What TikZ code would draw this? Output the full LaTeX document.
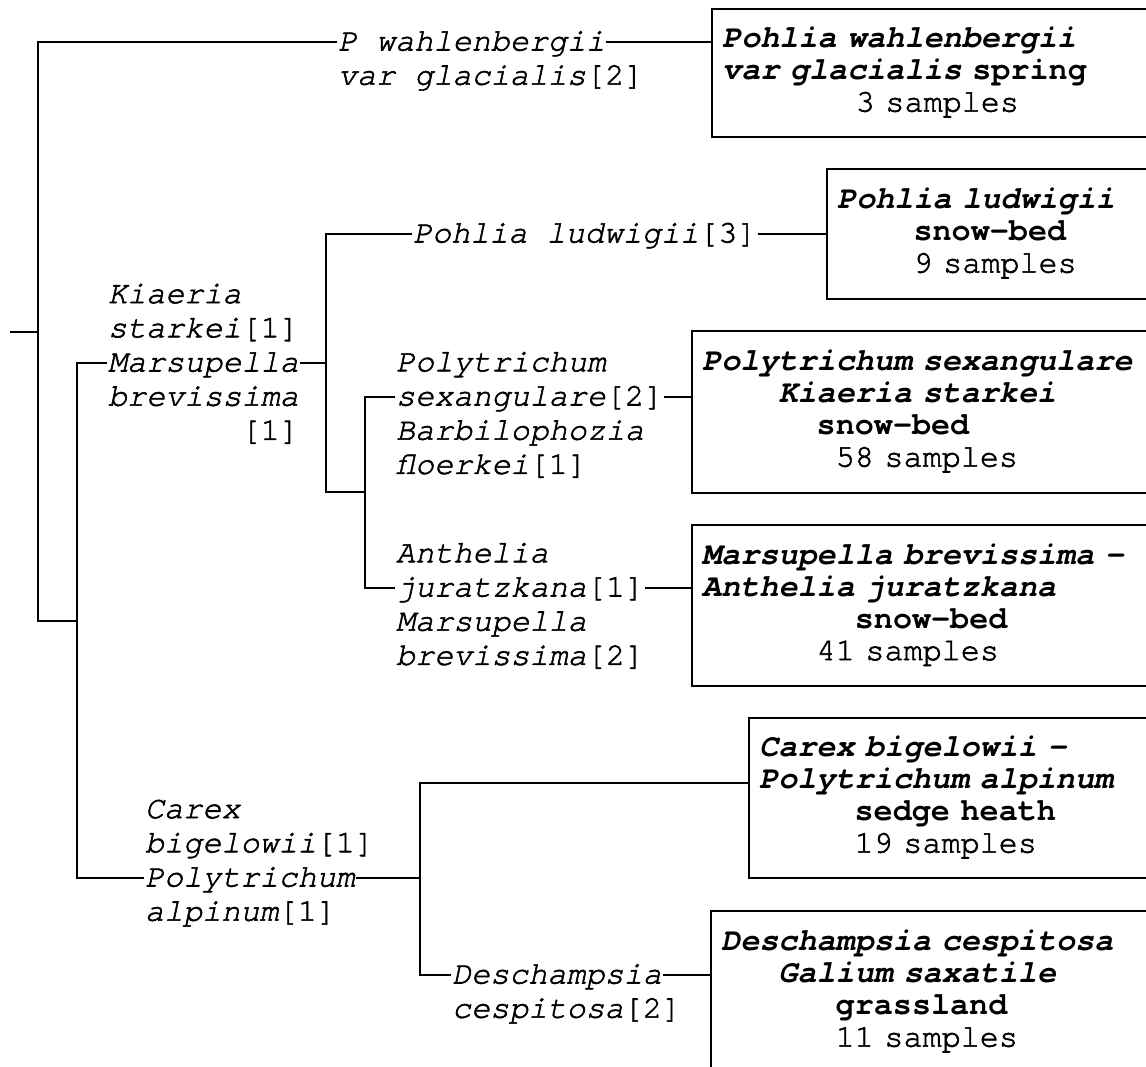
\documentclass[tikz,border=0pt]{standalone}
\usepackage{fontspec}
\usepackage{tikz}
\usetikzlibrary{positioning, calc}
\newfontfamily\treefont{texgyrecursor}[Extension=.otf, UprightFont=*-regular, BoldFont=*-bold, ItalicFont=*-italic, BoldItalicFont=*-bolditalic, UprightFeatures={FakeBold=1.8}, ItalicFeatures={FakeBold=1.8}]
\newfontfamily\boxfont{texgyrecursor}[Extension=.otf, UprightFont=*-regular, BoldFont=*-bold, ItalicFont=*-italic, BoldItalicFont=*-bolditalic, UprightFeatures={FakeBold=1.8}]
\newcommand{\indcols}[1]{\hspace*{\fpeval{0.6*#1}em}}
\newcommand{\ncount}[1]{\textup{[#1]}}

\begin{document}
\begin{tikzpicture}[x=1pt, y=-1pt, line width=2.2pt,
    lbl/.style={font=\treefont\itshape\fontsize{31.8}{32}\selectfont, inner sep=0pt, text height=24.5pt, text depth=7.5pt, anchor=west},
    group/.style={draw, line width=2.4pt, font=\boxfont\bfseries\fontsize{31.8}{32}\selectfont, align=left, text width=480pt, inner xsep=10pt, inner ysep=0pt, anchor=north west}]
\useasboundingbox (0,0) rectangle (1146,1067);
\clip (0,0) rectangle (1146,1067);

% Community boxes (right edges run off the page)
\node[group, minimum height=128pt] (box1) at (711,8) {\strut\textit{Pohlia wahlenbergii}\\\textit{var glacialis} spring\\\indcols{7}{\mdseries 3 samples}\strut};
\node[group, minimum height=130pt] (box2) at (826,168) {\strut\textit{Pohlia ludwigii}\\\indcols{4}snow-bed\\\indcols{4}{\mdseries 9 samples}\strut};
\node[group, minimum height=162pt] (box3) at (691,330) {\strut\textit{Polytrichum sexangulare}\\\indcols{4}\textit{Kiaeria starkei}\\\indcols{6}snow-bed\\\indcols{7}{\mdseries 58 samples}\strut};
\node[group, minimum height=161pt] (box4) at (691,524) {\strut\textit{Marsupella brevissima -}\\\textit{Anthelia juratzkana}\\\indcols{8}snow-bed\\\indcols{6}{\mdseries 41 samples}\strut};
\node[group, minimum height=160pt] (box5) at (748,717) {\strut\textit{Carex bigelowii -}\\\textit{Polytrichum alpinum}\\\indcols{5}sedge heath\\\indcols{5}{\mdseries 19 samples}\strut};
\node[group, minimum height=162pt] (box6) at (710,910) {\strut\textit{Deschampsia cespitosa}\\\indcols{3}\textit{Galium saxatile}\\\indcols{6}grassland\\\indcols{6}{\mdseries 11 samples}\strut};

% Indicator species at each split
\node[lbl] (pw) at (337,42) {P wahlenbergii};
\node[lbl, below=0pt of pw.south west, anchor=north west] (pw2) {var glacialis\ncount{2}};

\node[lbl] (ludw) at (412,234) {Pohlia ludwigii\ncount{3}};

\node[lbl] (marsu) at (107,363) {Marsupella};
\node[lbl, above=0pt of marsu.north west, anchor=south west] (kia2) {starkei\ncount{1}};
\node[lbl, above=0pt of kia2.north west, anchor=south west] (kia1) {Kiaeria};
\node[lbl, below=0pt of marsu.south west, anchor=north west] (brev) {brevissima};
\node[lbl, below=0pt of brev.south west, anchor=north west] (brev2) {\indcols{7}\ncount{1}};

\node[lbl] (sexa) at (395,397) {sexangulare\ncount{2}};
\node[lbl, above=0pt of sexa.north west, anchor=south west] (poly) {Polytrichum};
\node[lbl, below=0pt of sexa.south west, anchor=north west] (barb) {Barbilophozia};
\node[lbl, below=0pt of barb.south west, anchor=north west] (floe) {floerkei\ncount{1}};

\node[lbl] (jura) at (395,588) {juratzkana\ncount{1}};
\node[lbl, above=0pt of jura.north west, anchor=south west] (anth) {Anthelia};
\node[lbl, below=0pt of jura.south west, anchor=north west] (mars2) {Marsupella};
\node[lbl, below=0pt of mars2.south west, anchor=north west] (brev3) {brevissima\ncount{2}};

\node[lbl] (alp) at (144,878) {Polytrichum};
\node[lbl, above=0pt of alp.north west, anchor=south west] (carex2) {bigelowii\ncount{1}};
\node[lbl, above=0pt of carex2.north west, anchor=south west] (carex1) {Carex};
\node[lbl, below=0pt of alp.south west, anchor=north west] (alp2) {alpinum\ncount{1}};

\node[lbl] (desch) at (451,975) {Deschampsia};
\node[lbl, below=0pt of desch.south west, anchor=north west] (desch2) {cespitosa\ncount{2}};

% Tree brackets
\coordinate (root) at (10,332);
\coordinate (k0) at (38,332);
\coordinate (k1) at (77,621);
\coordinate (k2) at (326,363);
\coordinate (k3) at (365,492);
\coordinate (k4) at (420,878);

\draw (root) -- (k0);
\draw (pw.west) -| (k0) |- (k1);
\draw (marsu.west) -| (k1) |- (alp.west);
\draw (marsu.east) -- (k2);
\draw (ludw.west) -| (k2) |- (k3);
\draw (sexa.west) -| (k3) |- (jura.west);
\draw (alp.east) -- (k4);
\draw ([yshift=15pt]box5.west) -| (k4) |- (desch.west);

% Links to the boxes
\draw (pw.east) -- (pw.east -| box1.west);
\draw (ludw.east) -- (ludw.east -| box2.west);
\draw (sexa.east) -- (sexa.east -| box3.west);
\draw (jura.east) -- (jura.east -| box4.west);
\draw (desch.east) -- (desch.east -| box6.west);
\end{tikzpicture}
\end{document}
